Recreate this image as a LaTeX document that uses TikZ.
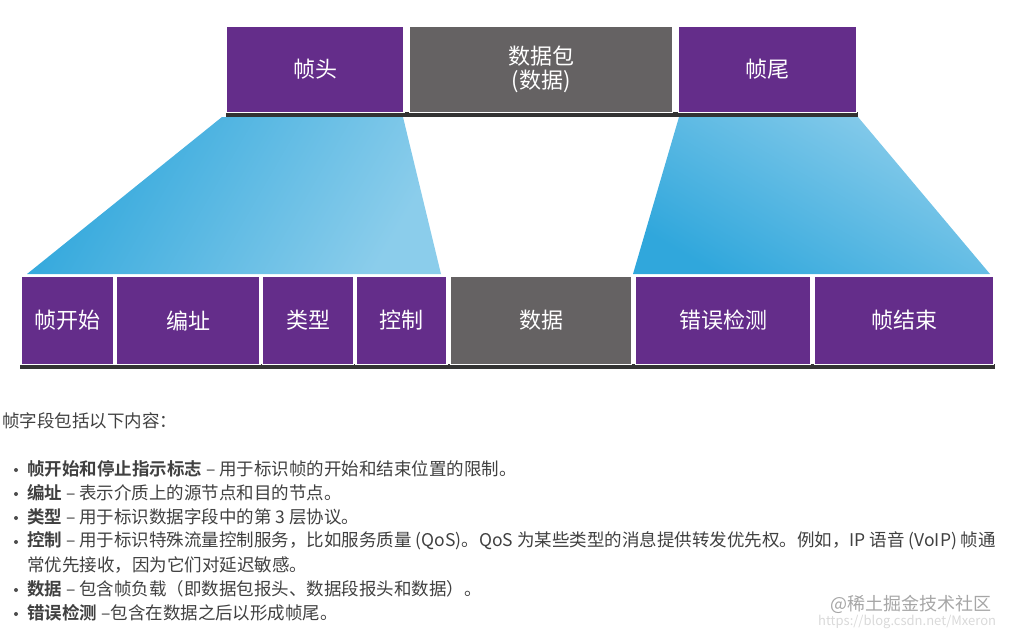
\documentclass[tikz,border=0pt]{standalone}
\usepackage{fontspec}
\setmainfont{Noto Sans CJK SC}
\newfontfamily\cjkb{Noto Sans CJK SC Bold}
\begin{document}
\begin{tikzpicture}[x=1pt,y=-1pt,
  fld/.style={draw=white,line width=1.2pt,fill=pur,text=white,font=\fontsize{22}{24}\selectfont,inner sep=0pt},
  gfld/.style={fld,fill=gry},
  txt/.style={anchor=west,inner sep=0pt,font=\fontsize{17.5}{19}\selectfont,text=black!75},
  bul/.style={fill=black!70,circle,inner sep=0pt,minimum size=4pt}]
\definecolor{pur}{HTML}{642D8A}
\definecolor{gry}{HTML}{656263}
\definecolor{bluea}{HTML}{30A7DC}
\definecolor{blueb}{HTML}{8BCDEB}
\useasboundingbox (0,0) rectangle (1010,633);
% trapezoids
\coordinate (l1) at (222,117); \coordinate (l2) at (403,117);
\coordinate (l3) at (441,274); \coordinate (l4) at (27,274);
\coordinate (r1) at (679,117); \coordinate (r2) at (858,117);
\coordinate (r3) at (990,274); \coordinate (r4) at (633,274);
\shade[left color=bluea,right color=blueb,shading angle=60] (l1)--(l2)--(l3)--(l4)--cycle;
\shade[left color=blueb,right color=bluea,shading angle=-30] (r1)--(r2)--(r3)--(r4)--cycle;
% shadows
\fill[black!80] (226,112) rectangle (858,117);
\fill[black!80] (20,364) rectangle (995,369);
% top
\node[fld,minimum width=178,minimum height=86] (fh) at (315,69.5) {帧头};
\node[gfld,minimum width=263,minimum height=86,align=center] (pk) at (541,69.5) {数据包\\(数据)};
\node[fld,minimum width=178,minimum height=86] (ft) at (767.5,69.5) {帧尾};
% bottom
\node[fld,minimum width=93,minimum height=88] (b1) at (67.5,320.5) {帧开始};
\node[fld,minimum width=144,minimum height=88] (b2) at (188,320.5) {编址};
\node[fld,minimum width=91,minimum height=88] (b3) at (308,320.5) {类型};
\node[fld,minimum width=91,minimum height=88] (b4) at (401.5,320.5) {控制};
\node[gfld,minimum width=181,minimum height=88] (b5) at (541,320.5) {数据};
\node[fld,minimum width=175,minimum height=88] (b6) at (723,320.5) {错误检测};
\node[fld,minimum width=179,minimum height=88] (b7) at (904,320.5) {帧结束};
% text
\node[txt] (t0) at (2,421) {帧字段包括以下内容：};
\foreach \y/\b/\r [count=\i] in {469/帧开始和停止指示标志/ – 用于标识帧的开始和结束位置的限制。,
  493/编址/ – 表示介质上的源节点和目的节点。,
  517/类型/ – 用于标识数据字段中的第 3 层协议。,
  541/控制/ – 用于标识特殊流量控制服务，比如服务质量 (QoS)。QoS 为某些类型的消息提供转发优先权。例如，IP 语音 (VoIP) 帧通,
  589/数据/ – 包含帧负载（即数据包报头、数据段报头和数据）。,
  613/错误检测/ –包含在数据之后以形成帧尾。}{
  \node[bul] (d\i) at (16,\y+1) {};
  \node[txt] (l\i) at (27,\y) {{\cjkb\b}\r};
}
\node[txt] (c4) at (27,565) {常优先接收，因为它们对延迟敏感。};
\node[txt,text=black!35,font=\fontsize{18}{20}\selectfont] (wm) at (830,604) {@稀土掘金技术社区};
\node[txt,text=black!15,font=\fontsize{13}{15}\selectfont] (url) at (818,622) {https://blog.csdn.net/Mxeron};
\end{tikzpicture}
\end{document}
